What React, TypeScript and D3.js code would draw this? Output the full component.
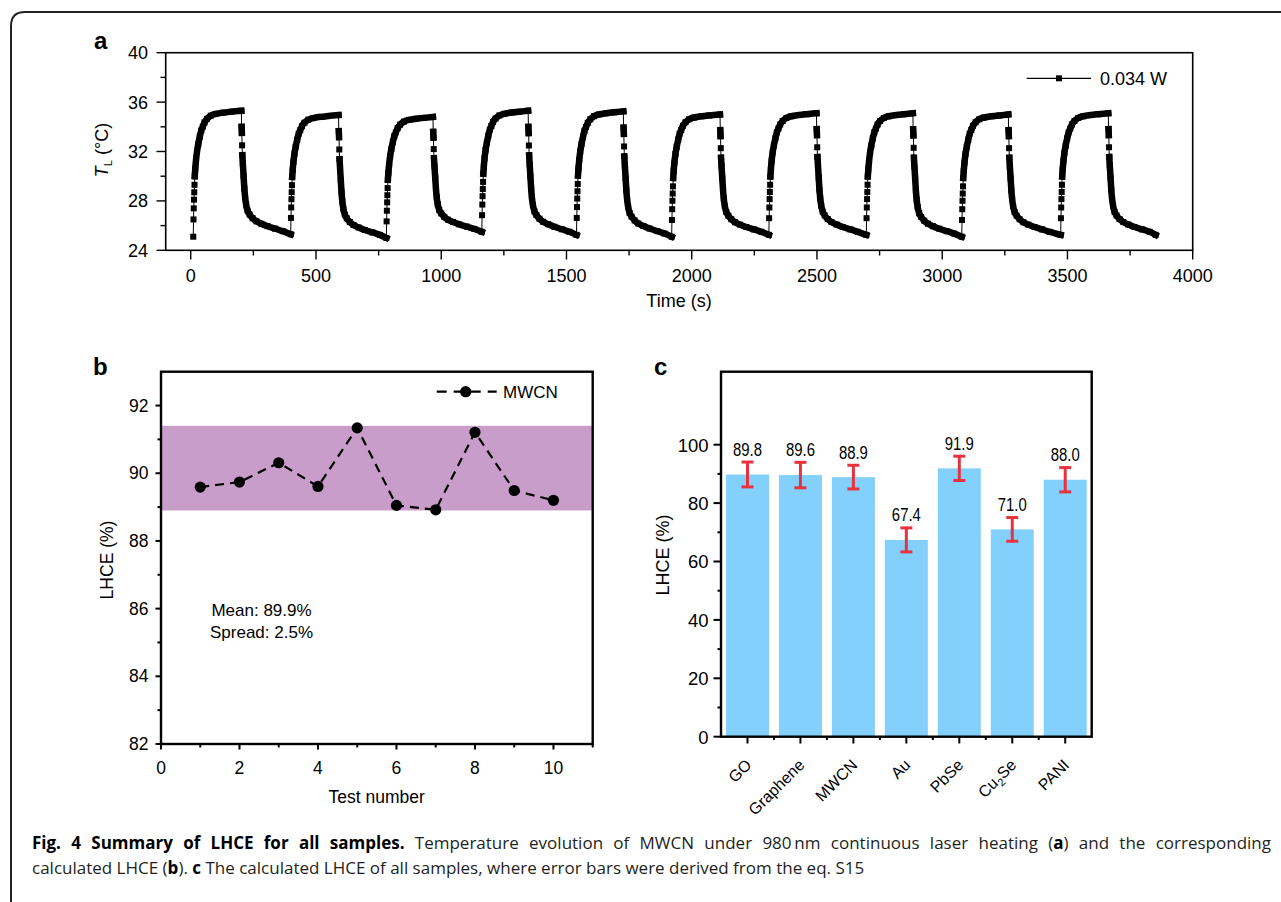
import React, { useLayoutEffect, useRef, useState } from 'react';
import * as d3 from 'd3';

// ---------- Panel a data ----------
const CYCLE_ON = [10, 399, 781, 1162, 1540, 1920, 2308, 2697, 3078, 3473];
const CYCLE_OFF = [202, 590, 967, 1347, 1727, 2113, 2498, 2883, 3264, 3663];
const RUN_END = 3852;
const CYCLE_PEAK = [35.3, 34.95, 34.8, 35.3, 35.25, 35.0, 35.1, 35.1, 35.0, 35.1];
// temperature at each laser-on moment, plus final temperature
const CYCLE_BASE = [25.1, 25.3, 25.0, 25.5, 25.25, 25.1, 25.25, 25.25, 25.1, 25.25, 25.25];
// heating response read from the first cycle: seconds after laser on, fraction of rise
const HEAT_DT = [0, 1, 2, 3, 4, 5, 6, 8, 11, 15, 20, 26, 32, 38, 45, 55, 70, 90, 120, 150];
const HEAT_FRAC = [0, 0.137, 0.225, 0.294, 0.353, 0.412, 0.48, 0.539, 0.608, 0.676, 0.735, 0.794, 0.843, 0.873, 0.907, 0.936, 0.961, 0.975, 0.985, 0.992];
// cooling response read from the first cycle: seconds after laser off, fraction remaining
const COOL_DT = [1, 2, 3, 4, 6, 9, 12, 15, 19, 25, 33, 45, 60, 80, 105, 135, 165];
const COOL_FRAC = [0.87, 0.82, 0.72, 0.64, 0.57, 0.47, 0.37, 0.3, 0.24, 0.19, 0.16, 0.13, 0.105, 0.085, 0.065, 0.045, 0.025];
const A_X_TICKS = [0, 500, 1000, 1500, 2000, 2500, 3000, 3500, 4000];
const A_Y_TICKS = [24, 28, 32, 36, 40];

// ---------- Panel b data ----------
const TEST_NUMBER = [1, 2, 3, 4, 5, 6, 7, 8, 9, 10];
const LHCE_TESTS = [89.59, 89.74, 90.31, 89.61, 91.34, 89.05, 88.92, 91.21, 89.49, 89.2];
const SPREAD_BAND = [88.9, 91.4];
const B_X_TICKS = [0, 2, 4, 6, 8, 10];
const B_Y_TICKS = [82, 84, 86, 88, 90, 92];

// ---------- Panel c data ----------
const MATERIALS = ['GO', 'Graphene', 'MWCN', 'Au', 'PbSe', 'Cu2Se', 'PANI'];
const LHCE_MEAN = [89.8, 89.6, 88.9, 67.4, 91.9, 71.0, 88.0];
const LHCE_ERR = [4.6, 4.7, 4.4, 4.45, 4.5, 4.4, 4.5];
const C_Y_TICKS = [0, 20, 40, 60, 80, 100];

const FONT = "'Liberation Sans', Arial, Helvetica, sans-serif";

function buildSeries() {
  const pts: { t: number; T: number }[] = [];
  CYCLE_ON.forEach((on, i) => {
    const off = CYCLE_OFF[i];
    const start = CYCLE_BASE[i];
    const peak = CYCLE_PEAK[i];
    const end = CYCLE_BASE[i + 1];
    HEAT_DT.forEach((dt, k) => pts.push({ t: on + dt, T: start + HEAT_FRAC[k] * (peak - start) }));
    pts.push({ t: off, T: peak });
    COOL_DT.forEach((dt, k) => pts.push({ t: off + dt, T: end + COOL_FRAC[k] * (peak - end) }));
    if (i === CYCLE_ON.length - 1) pts.push({ t: RUN_END, T: end });
  });
  return pts;
}

function PanelA() {
  const x = d3.scaleLinear().domain([-100, 4000]).range([165.7, 1192.7]);
  const y = d3.scaleLinear().domain([24, 40]).range([250.3, 52.7]);
  const pts = buildSeries();
  const runs: { t: number; T: number }[][] = [];
  let run = [pts[0]];
  for (let i = 1; i < pts.length; i++) {
    const a = pts[i - 1], b = pts[i];
    const jump = b.t - a.t <= 1.5 && Math.abs(b.T - a.T) >= 0.55;
    if (jump) {
      runs.push(run);
      run = [b];
    } else run.push(b);
  }
  runs.push(run);
  const thin = d3.line<{ t: number; T: number }>().x(d => x(d.t)).y(d => y(d.T));
  const thick = d3.line<{ t: number; T: number }>().x(d => x(d.t)).y(d => y(d.T)).curve(d3.curveMonotoneX);
  const minorX = d3.range(250, 4000, 500);
  const minorY = [26, 30, 34, 38];
  return (
    <g fontFamily={FONT}>
      <text x={94} y={49} fontSize={24} fontWeight="bold">a</text>
      <path d={thin(pts) || ''} fill="none" stroke="#000" strokeWidth={1} />
      {runs.filter(r => r.length > 1).map((r, i) => (
        <path key={i} d={thick(r) || ''} fill="none" stroke="#000" strokeWidth={6.5} strokeLinejoin="round" strokeLinecap="square" />
      ))}
      {pts.map((p, i) => (
        <rect key={i} x={x(p.t) - 3} y={y(p.T) - 3} width={6} height={6} fill="#000" />
      ))}
      <rect x={165.7} y={52.7} width={1027} height={197.6} fill="none" stroke="#000" strokeWidth={1.6} />
      {A_X_TICKS.map(t => (
        <g key={t}>
          <line x1={x(t)} x2={x(t)} y1={250.3} y2={259.5} stroke="#000" strokeWidth={1.4} />
          <text x={x(t)} y={282} fontSize={18} textAnchor="middle">{t}</text>
        </g>
      ))}
      {minorX.map(t => (
        <line key={t} x1={x(t)} x2={x(t)} y1={250.3} y2={255.5} stroke="#000" strokeWidth={1.4} />
      ))}
      {A_Y_TICKS.map(t => (
        <g key={t}>
          <line x1={156.5} x2={165.7} y1={y(t)} y2={y(t)} stroke="#000" strokeWidth={1.4} />
          <text x={148} y={y(t) + 6.5} fontSize={18} textAnchor="end">{t}</text>
        </g>
      ))}
      {minorY.map(t => (
        <line key={t} x1={160.5} x2={165.7} y1={y(t)} y2={y(t)} stroke="#000" strokeWidth={1.4} />
      ))}
      <text x={679} y={307} fontSize={18} textAnchor="middle">Time (s)</text>
      <text transform="translate(108,150) rotate(-90)" fontSize={18} textAnchor="middle">
        <tspan fontStyle="italic">T</tspan>
        <tspan fontSize={11} dy={4}>L</tspan>
        <tspan dy={-4}>{' (°C)'}</tspan>
      </text>
      <line x1={1026.7} x2={1091} y1={78.3} y2={78.3} stroke="#000" strokeWidth={1.2} />
      <rect x={1056} y={75.3} width={6} height={6} fill="#000" />
      <text x={1100} y={84.5} fontSize={18}>0.034 W</text>
    </g>
  );
}

function PanelB() {
  const x = d3.scaleLinear().domain([0, 11]).range([161, 592.7]);
  const y = d3.scaleLinear().domain([82, 93]).range([744, 371.7]);
  const line = d3.line<number>().x((_, i) => x(TEST_NUMBER[i])).y(d => y(d));
  const minorX = [1, 3, 5, 7, 9, 11];
  const minorY = [83, 85, 87, 89, 91];
  return (
    <g fontFamily={FONT}>
      <text x={93} y={375} fontSize={24} fontWeight="bold">b</text>
      <rect x={161} y={y(SPREAD_BAND[1])} width={431.7} height={y(SPREAD_BAND[0]) - y(SPREAD_BAND[1])} fill="#c99dc9" />
      <path d={line(LHCE_TESTS) || ''} fill="none" stroke="#000" strokeWidth={2.2} strokeDasharray="9,6" />
      {LHCE_TESTS.map((v, i) => (
        <circle key={i} cx={x(TEST_NUMBER[i])} cy={y(v)} r={5.6} fill="#000" />
      ))}
      <rect x={161} y={371.7} width={431.7} height={372.3} fill="none" stroke="#000" strokeWidth={2.4} />
      {B_X_TICKS.map(t => (
        <g key={t}>
          <line x1={x(t)} x2={x(t)} y1={744} y2={749.5} stroke="#000" strokeWidth={2} />
          <text x={x(t)} y={773.5} fontSize={17.5} textAnchor="middle">{t}</text>
        </g>
      ))}
      {minorX.map(t => (
        <line key={t} x1={x(t)} x2={x(t)} y1={744} y2={747.5} stroke="#000" strokeWidth={2} />
      ))}
      {B_Y_TICKS.map(t => (
        <g key={t}>
          <line x1={155.5} x2={161} y1={y(t)} y2={y(t)} stroke="#000" strokeWidth={2} />
          <text x={148.5} y={y(t) + 6} fontSize={17.5} textAnchor="end">{t}</text>
        </g>
      ))}
      {minorY.map(t => (
        <line key={t} x1={157.5} x2={161} y1={y(t)} y2={y(t)} stroke="#000" strokeWidth={2} />
      ))}
      <text x={376.7} y={803} fontSize={17.5} textAnchor="middle">Test number</text>
      <text transform="translate(113,560) rotate(-90)" fontSize={17.5} textAnchor="middle">LHCE (%)</text>
      <text x={261.5} y={616} fontSize={17} textAnchor="middle">Mean: 89.9%</text>
      <text x={261.5} y={638} fontSize={17} textAnchor="middle">Spread: 2.5%</text>
      <line x1={436.7} x2={496.7} y1={391.7} y2={391.7} stroke="#000" strokeWidth={2.2} strokeDasharray="10,7" />
      <circle cx={465.7} cy={391.7} r={5.6} fill="#000" />
      <text x={503} y={397.5} fontSize={17}>MWCN</text>
    </g>
  );
}

function PanelC() {
  const x = d3.scaleBand<string>().domain(MATERIALS).range([721, 1091.7]).paddingInner(0.188).paddingOuter(0.094);
  const y = d3.scaleLinear().domain([0, 125]).range([736.7, 371.7]);
  const step = x.step();
  const center = (m: string) => (x(m) as number) + x.bandwidth() / 2;
  const minorY = [10, 30, 50, 70, 90];
  const bounds = MATERIALS.slice(1).map(m => center(m) - step / 2);
  return (
    <g fontFamily={FONT}>
      <text x={654} y={375} fontSize={24} fontWeight="bold">c</text>
      {MATERIALS.map((m, i) => (
        <rect key={m} x={x(m)} y={y(LHCE_MEAN[i])} width={x.bandwidth()} height={y(0) - y(LHCE_MEAN[i])} fill="#83d0fc" />
      ))}
      {MATERIALS.map((m, i) => {
        const cx = center(m);
        const top = y(LHCE_MEAN[i] + LHCE_ERR[i]);
        const bot = y(LHCE_MEAN[i] - LHCE_ERR[i]);
        return (
          <g key={m}>
            <line x1={cx} x2={cx} y1={top} y2={bot} stroke="#e8333e" strokeWidth={3} />
            <line x1={cx - 6} x2={cx + 6} y1={top + 1} y2={top + 1} stroke="#e8333e" strokeWidth={3} />
            <line x1={cx - 6} x2={cx + 6} y1={bot - 1} y2={bot - 1} stroke="#e8333e" strokeWidth={3} />
            <text x={cx} y={top - 5.5} fontSize={17.5} textAnchor="middle" textLength={29} lengthAdjust="spacingAndGlyphs">
              {LHCE_MEAN[i].toFixed(1)}
            </text>
          </g>
        );
      })}
      <rect x={721} y={371.7} width={370.7} height={365} fill="none" stroke="#000" strokeWidth={2.4} />
      {C_Y_TICKS.map(t => (
        <g key={t}>
          <line x1={713.5} x2={721} y1={y(t)} y2={y(t)} stroke="#000" strokeWidth={2} />
          <text x={708.5} y={y(t) + 6.8} fontSize={18.5} textAnchor="end">{t}</text>
        </g>
      ))}
      {minorY.map(t => (
        <line key={t} x1={717.5} x2={721} y1={y(t)} y2={y(t)} stroke="#000" strokeWidth={2} />
      ))}
      {MATERIALS.map(m => (
        <line key={m} x1={center(m)} x2={center(m)} y1={736.7} y2={743.5} stroke="#000" strokeWidth={2} />
      ))}
      {bounds.map((b, i) => (
        <line key={i} x1={b} x2={b} y1={736.7} y2={740} stroke="#000" strokeWidth={2} />
      ))}
      {MATERIALS.map(m => (
        <text key={m} transform={`translate(${center(m) + 5},${766}) rotate(-45)`} fontSize={16} textAnchor="end">
          {m === 'Cu2Se' ? (
            <>
              <tspan>Cu</tspan>
              <tspan fontSize={11} dy={4}>2</tspan>
              <tspan dy={-4}>Se</tspan>
            </>
          ) : m}
        </text>
      ))}
      <text transform="translate(669,555) rotate(-90)" fontSize={18} textAnchor="middle">LHCE (%)</text>
    </g>
  );
}

const CAPTION_1_BOLD = 'Fig. 4 Summary of LHCE for all samples.';
const CAPTION_1_A = ' Temperature evolution of MWCN under 980\u2009nm continuous laser heating (';
const CAPTION_1_B = ') and the corresponding';
const CAPTION_2_A = 'calculated LHCE (';
const CAPTION_2_B = '). ';
const CAPTION_2_C = ' The calculated LHCE of all samples, where error bars were derived from the eq. S15';

function Caption() {
  const capFont = "'Open Sans', 'Noto Sans', sans-serif";
  const ref1 = useRef<SVGTextElement>(null);
  const [ws, setWs] = useState(0);
  useLayoutEffect(() => {
    if (ref1.current) {
      const w1 = ref1.current.getComputedTextLength();
      if (w1 > 0) {
        const spaces = (CAPTION_1_BOLD + CAPTION_1_A + 'a' + CAPTION_1_B).split(' ').length - 1;
        setWs((1239 - w1) / spaces);
      }
    }
  }, []);
  return (
    <g fontFamily={capFont} fill="#231f20">
      <text ref={ref1} x={32} y={849} fontSize={17} wordSpacing={ws}>
        <tspan fontWeight="bold" fill="#000">{CAPTION_1_BOLD}</tspan>
        {CAPTION_1_A}
        <tspan fontWeight="bold" fill="#000">a</tspan>
        {CAPTION_1_B}
      </text>
      <text x={32} y={874} fontSize={17}>
        {CAPTION_2_A}
        <tspan fontWeight="bold" fill="#000">b</tspan>
        {CAPTION_2_B}
        <tspan fontWeight="bold" fill="#000">c</tspan>
        {CAPTION_2_C}
      </text>
    </g>
  );
}

export default function App() {
  return (
    <svg width={1281} height={902} viewBox="0 0 1281 902" style={{ position: 'absolute', left: 0, top: 0, background: '#fff' }}>
      <rect x={0} y={0} width={1281} height={902} fill="#fff" />
      <path d="M11,902 V26 Q11,12 25,12 H1281" fill="none" stroke="#222" strokeWidth={2} />
      <PanelA />
      <PanelB />
      <PanelC />
      <Caption />
    </svg>
  );
}
